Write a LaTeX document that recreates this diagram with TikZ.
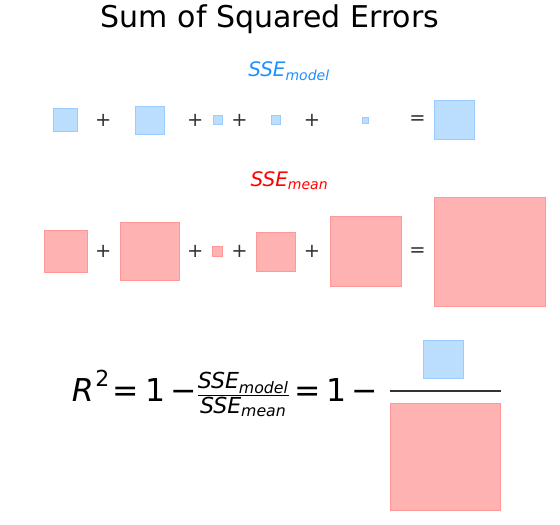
\documentclass[tikz,border=0pt]{standalone}
\usepackage{amsmath}
\usepackage{fontspec}
\setmainfont{DejaVu Sans}
\usepackage{tikz}
\usepackage{xcolor}
\definecolor{modelblue}{RGB}{30,144,255}
\definecolor{meanred}{RGB}{255,0,0}
\definecolor{signgray}{RGB}{51,51,51}

\begin{document}
\begin{tikzpicture}[x=1pt, y=-1pt,
    modsq/.style={draw=modelblue!45, fill=modelblue!30, line width=0.8pt, inner sep=0pt},
    meansq/.style={draw=meanred!40, fill=meanred!30, line width=0.8pt, inner sep=0pt},
    sign/.style={text=signgray, font=\fontsize{19.4}{23}\selectfont, inner sep=0pt}]
    \useasboundingbox (0,0) rectangle (560,525);
    \node[anchor=base, font=\fontsize{30}{36}\selectfont] (title) at (270,27.7) {Sum of Squared Errors};

    % model row
    \node[anchor=base, text=modelblue, font=\fontsize{20}{24}\selectfont] (modlabel) at (289,76.7) {$\textit{SSE}_{\textit{model}}$};
    \node[modsq, minimum width=24pt, minimum height=23pt] (mod1) at (65.5,120) {};
    \node[sign] (modp1) at (103.3,120) {+};
    \node[modsq, minimum width=29pt, minimum height=28pt] (mod2) at (150,120) {};
    \node[sign] (modp2) at (195.3,120) {+};
    \node[modsq, minimum width=9pt, minimum height=9pt] (mod3) at (218,120) {};
    \node[sign] (modp3) at (239.5,120) {+};
    \node[modsq, minimum width=9pt, minimum height=9pt] (mod4) at (276,120) {};
    \node[sign] (modp4) at (312,120) {+};
    \node[modsq, minimum width=6pt, minimum height=6pt] (mod5) at (365.5,120) {};
    \node[sign] (modeq) at (417.4,120) {=};
    \node[modsq, minimum width=40pt, minimum height=39pt] (modsum) at (454.5,120) {};

    % mean row
    \node[anchor=base, text=meanred, font=\fontsize{20}{24}\selectfont] (meanlabel) at (289.4,186) {$\textit{SSE}_{\textit{mean}}$};
    \node[meansq, minimum width=43.5pt, minimum height=42.5pt] (mean1) at (65.8,251.6) {};
    \node[sign] (meanp1) at (103.3,251.6) {+};
    \node[meansq, minimum width=59pt, minimum height=58pt] (mean2) at (150,251.6) {};
    \node[sign] (meanp2) at (195.3,251.6) {+};
    \node[meansq, minimum width=10pt, minimum height=10pt] (mean3) at (217.8,251.6) {};
    \node[sign] (meanp3) at (239.5,251.6) {+};
    \node[meansq, minimum width=39pt, minimum height=39pt] (mean4) at (275.9,251.6) {};
    \node[sign] (meanp4) at (312,251.6) {+};
    \node[meansq, minimum width=71.5pt, minimum height=70.5pt] (mean5) at (365.7,251.6) {};
    \node[sign] (meaneq) at (417.4,251.6) {=};
    \node[meansq, minimum width=111pt, minimum height=109pt] (meansum) at (490,251.6) {};

    % R squared
    \node[anchor=base west, inner sep=0pt, font=\fontsize{31.5}{38}\selectfont] (rsq) at (71.7,401.7)
        {$\textit{R}^{\hspace{1.5pt}\text{2}}\hspace{2.5pt}\text{=}\hspace{6.5pt}\text{1}\hspace{5pt}\text{−}\frac{\textit{SSE}_{\textit{model}}}{\textit{SSE}_{\textit{mean}}}\hspace{5pt}\text{=}\hspace{5.6pt}\text{1}\hspace{4.6pt}\text{−}$};
    \node[modsq, minimum width=40pt, minimum height=38.5pt] (fracnum) at (443.5,359.3) {};
    \node[meansq, minimum width=110.5pt, minimum height=107.5pt] (fracden) at (445.3,457) {};
    \coordinate (barl) at (390,391);
    \coordinate (barr) at (500.7,391);
    \draw[signgray, line width=1.5pt] (barl) -- (barr);
\end{tikzpicture}
\end{document}
